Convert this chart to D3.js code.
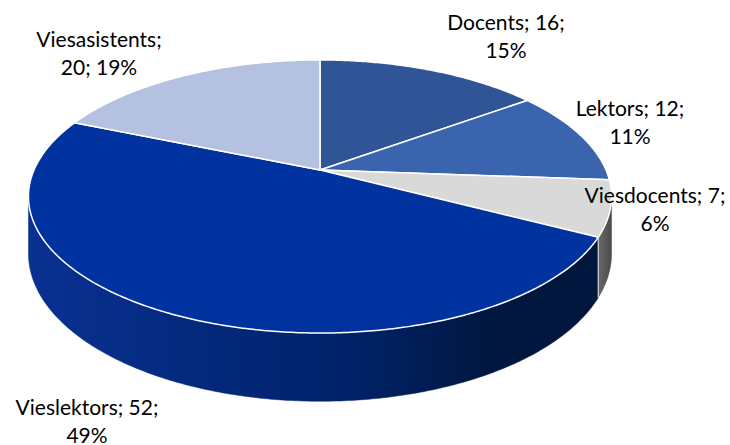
<!DOCTYPE html>
<html>
<head>
<meta charset="utf-8">
<script src="https://cdn.jsdelivr.net/npm/d3@7"></script>
<style>
  html, body { margin: 0; padding: 0; background: #fff; }
  svg { display: block; }
  text { font-family: Lato, "Open Sans", sans-serif; fill: #000; }
</style>
</head>
<body>
<svg id="chart" width="730" height="445"></svg>
<script>
// ---- data ----
const categories = ["Docents", "Lektors", "Viesdocents", "Vieslektors", "Viesasistents"];
const values = [16, 12, 7, 52, 20];
const percentLabels = ["15%", "11%", "6%", "49%", "19%"];

// ---- styles ----
const topColors = ["#2f5597", "#3a64ae", "#d9d9d9", "#0033a0", "#b4c1e1"];
const sideColors = ["#213d6d", "#294780", "url(#gGray)", "url(#gBlue)", "#7f8aa8"];

// label anchors (centre x, first baseline y)
const labelAnchors = [
  [506, 30], [630, 116], [655, 203], [87, 415], [99, 47]
];

const W = 730, H = 445;
const svg = d3.select("#chart");

// perspective projection of the tilted disk
const cx = 320, cy = 170, sx = 286, sy = 131.4, k = 0.194, depth = 55;
function proj(theta, r, h) {
  const u = r * Math.sin(theta), v = r * Math.cos(theta);
  const w = 1 + k * v;
  return [cx + sx * u / w, cy - sy * v / w + depth * h / w];
}

const pie = d3.pie().sort(null).value(d => d)(values);

const defs = svg.append("defs");
const gb = defs.append("linearGradient").attr("id", "gBlue")
  .attr("gradientUnits", "userSpaceOnUse")
  .attr("x1", 27).attr("y1", 0).attr("x2", 612).attr("y2", 0);
gb.append("stop").attr("offset", 0).attr("stop-color", "#0a3192");
gb.append("stop").attr("offset", 0.25).attr("stop-color", "#042a80");
gb.append("stop").attr("offset", 0.55).attr("stop-color", "#00226a");
gb.append("stop").attr("offset", 0.8).attr("stop-color", "#00173f");
gb.append("stop").attr("offset", 1).attr("stop-color", "#00163d");
const gg = defs.append("linearGradient").attr("id", "gGray")
  .attr("gradientUnits", "userSpaceOnUse")
  .attr("x1", 590).attr("y1", 0).attr("x2", 612).attr("y2", 0);
gg.append("stop").attr("offset", 0).attr("stop-color", "#7a7a7a");
gg.append("stop").attr("offset", 1).attr("stop-color", "#4a4a4a");

// front-facing range of the outer wall
const frontA = Math.acos(-k), frontB = 2 * Math.PI - Math.acos(-k);

function arcPts(a0, a1, h) {
  const n = Math.max(2, Math.ceil((a1 - a0) / 0.01));
  const pts = [];
  for (let i = 0; i <= n; i++) pts.push(proj(a0 + (a1 - a0) * i / n, 1, h));
  return pts;
}

// side walls
const sides = svg.append("g");
pie.forEach((d, i) => {
  const a0 = Math.max(d.startAngle, frontA), a1 = Math.min(d.endAngle, frontB);
  if (a1 <= a0) return;
  const pts = arcPts(a0, a1, 0).concat(arcPts(a0, a1, 1).reverse());
  sides.append("path")
    .attr("d", "M" + pts.map(p => p.join(",")).join("L") + "Z")
    .attr("fill", sideColors[i])
    .attr("stroke", sideColors[i]).attr("stroke-width", 0.5);
});
// vertical seams between walls
pie.forEach(d => {
  const a = d.startAngle;
  if (a > frontA && a < frontB) {
    const p0 = proj(a, 1, 0), p1 = proj(a, 1, 1);
    sides.append("line").attr("x1", p0[0]).attr("y1", p0[1])
      .attr("x2", p1[0]).attr("y2", p1[1])
      .attr("stroke", "#ffffff").attr("stroke-width", 1.2).attr("opacity", 0.8);
  }
});

// top faces
const tops = svg.append("g");
pie.forEach((d, i) => {
  const pts = [[cx, cy]].concat(arcPts(d.startAngle, d.endAngle, 0));
  tops.append("path")
    .attr("d", "M" + pts.map(p => p.join(",")).join("L") + "Z")
    .attr("fill", topColors[i])
    .attr("stroke", "#ffffff").attr("stroke-width", 1.5)
    .attr("stroke-linejoin", "round");
});

// labels, word-wrapped to a maximum width like the original
const maxW = 150, lineH = 27.5;
const labels = svg.append("g").attr("font-size", 21).attr("text-anchor", "middle");
categories.forEach((c, i) => {
  const [lx, ly] = labelAnchors[i];
  const words = [c + ";", values[i] + ";", percentLabels[i]];
  const t = labels.append("text").attr("x", lx).attr("y", ly);
  let line = [];
  let ts = t.append("tspan").attr("x", lx);
  let first = true;
  words.forEach(w => {
    line.push(w);
    ts.text(line.join(" "));
    if (ts.node().getComputedTextLength() > maxW && line.length > 1) {
      line.pop();
      ts.text(line.join(" "));
      line = [w];
      ts = t.append("tspan").attr("x", lx).attr("dy", lineH).text(w);
    }
  });
});
</script>
</body>
</html>
